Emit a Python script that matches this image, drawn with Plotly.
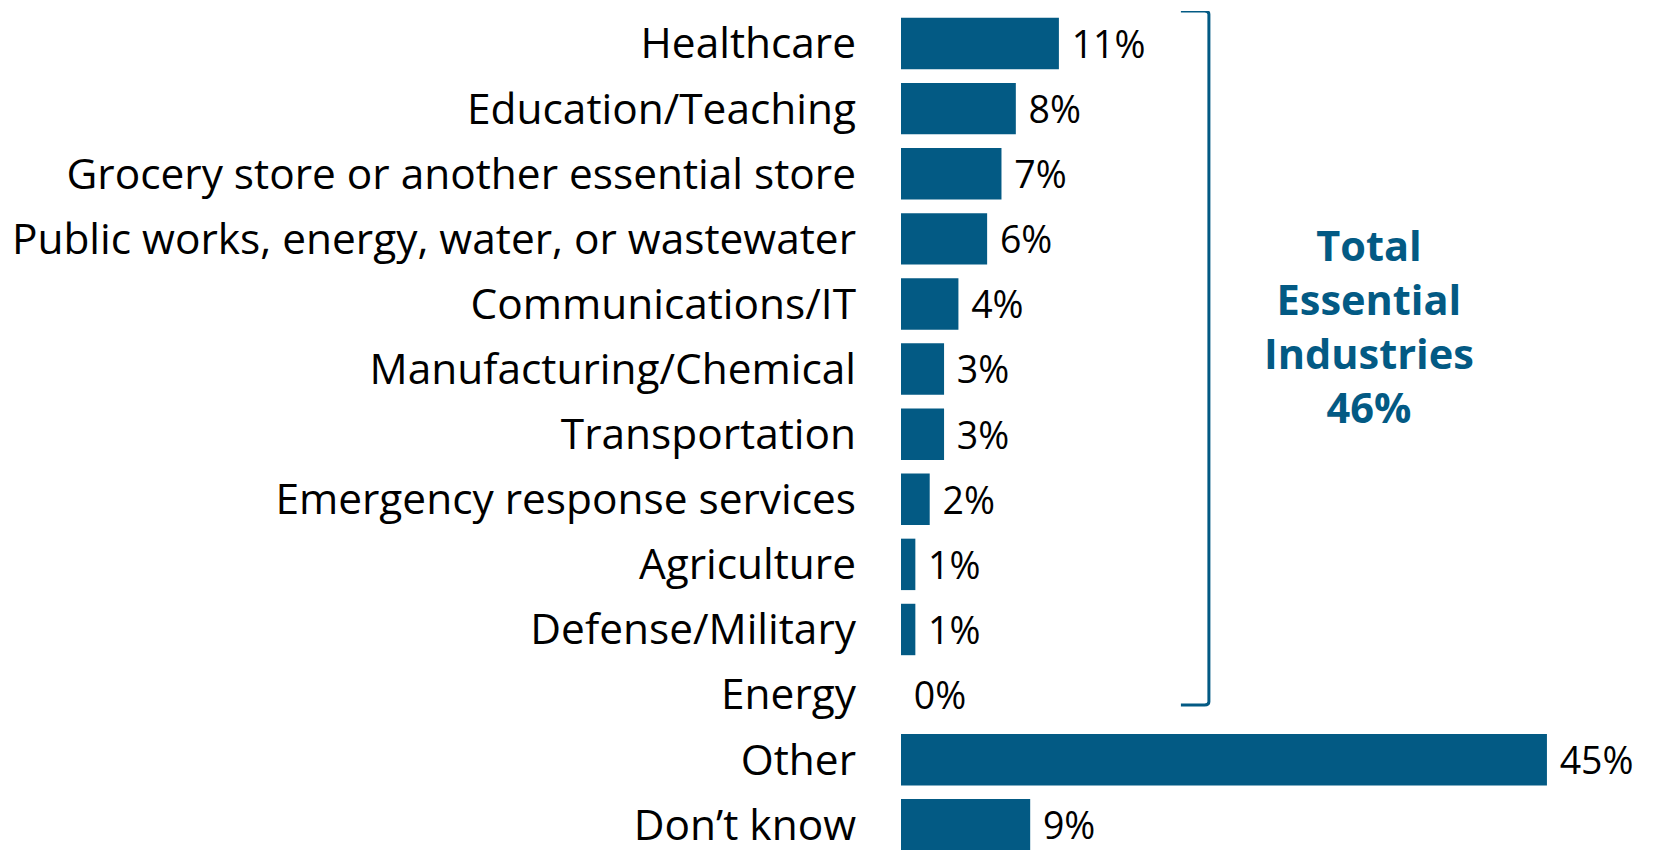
import plotly.graph_objects as go

categories = [
    "Healthcare",
    "Education/Teaching",
    "Grocery store or another essential store",
    "Public works, energy, water, or wastewater",
    "Communications/IT",
    "Manufacturing/Chemical",
    "Transportation",
    "Emergency response services",
    "Agriculture",
    "Defense/Military",
    "Energy",
    "Other",
    "Don\u2019t know",
]
values = [11, 8, 7, 6, 4, 3, 3, 2, 1, 1, 0, 45, 9]
bar_labels = ["11%", "8%", "7%", "6%", "4%", "3%", "3%", "2%", "1%", "1%", "0%", "45%", "9%"]
essential_total = "46%"

BLUE = "#035A84"
FONT = "Open Sans"

fig = go.Figure()
fig.add_trace(go.Bar(
    y=categories, x=values, orientation="h",
    marker=dict(color=BLUE, line=dict(width=0)),
    text=[" " + t for t in bar_labels], textposition="outside",
    textfont=dict(family=FONT, size=43, color="black"),
    cliponaxis=False, hoverinfo="skip",
))

# bracket around the essential industries
n_ess = categories.index("Energy")
x_br = 21.45
x_hook = 19.5
y_top = -0.5
y_bot = n_ess + 0.16
fig.add_shape(type="path",
              path=f"M {x_hook},{y_top} L {x_br-0.3},{y_top} Q {x_br},{y_top} {x_br},{y_top+0.05} "
                   f"L {x_br},{y_bot-0.05} Q {x_br},{y_bot} {x_br-0.3},{y_bot} L {x_hook},{y_bot}",
              line=dict(color=BLUE, width=3), xref="x", yref="y")

fig.add_annotation(x=32.6, y=4.34, xref="x", yref="y", showarrow=False,
                   text="Total<br>Essential<br>Industries<br>" + essential_total,
                   font=dict(family=FONT, size=41.5, color=BLUE, weight="bold"),
                   align="center")

fig.update_layout(
    width=1656, height=850,
    paper_bgcolor="white", plot_bgcolor="white",
    margin=dict(l=893, r=74, t=3, b=0),
    showlegend=False,
    bargap=0.21,
    font=dict(family=FONT, size=42, color="black"),
)
fig.update_xaxes(range=[0, 48], visible=False)
fig.update_yaxes(range=[12.51, -0.5], showgrid=False, zeroline=False, showline=False,
                 ticks="", ticklabelstandoff=44, automargin=False,
                 tickfont=dict(family=FONT, size=42.4, color="black"))

fig.write_html("out.html")
